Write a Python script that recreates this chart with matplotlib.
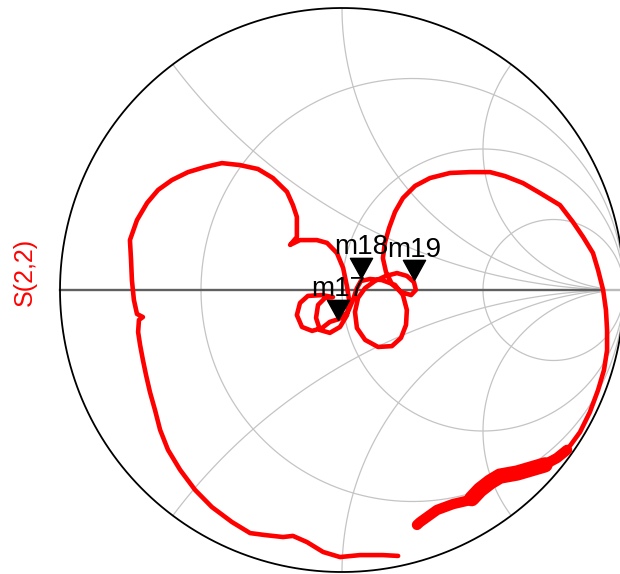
import numpy as np
import matplotlib.pyplot as plt
from matplotlib.path import Path

plt.rcParams['font.family'] = ['Liberation Sans', 'DejaVu Sans']

s22_re = [0.199, 0.145, 0.064, -0.007, -0.067, -0.124, -0.174, -0.209, -0.273, -0.326,
          -0.390, -0.461, -0.521, -0.574, -0.617, -0.645, -0.663, -0.681, -0.695, -0.706,
          -0.716, -0.723, -0.720, -0.706, -0.727, -0.738, -0.745, -0.748, -0.752, -0.727,
          -0.691, -0.652, -0.603, -0.546, -0.486, -0.426, -0.362, -0.298, -0.245, -0.195,
          -0.174, -0.160, -0.160, -0.184, -0.149, -0.089, -0.053, -0.018, 0.004, 0.018,
          0.025, 0.018, -0.007, -0.043, -0.078, -0.092, -0.085, -0.060, -0.032, -0.071,
          -0.121, -0.149, -0.160, -0.142, -0.106, -0.071, -0.043, -0.011, 0.021, 0.039,
          0.053, 0.067, 0.099, 0.142, 0.188, 0.216, 0.230, 0.227, 0.209, 0.177,
          0.128, 0.082, 0.053, 0.046, 0.057, 0.082, 0.117, 0.156, 0.195, 0.230,
          0.255, 0.262, 0.245, 0.209, 0.177, 0.156, 0.145, 0.152, 0.167, 0.188,
          0.216, 0.259, 0.312, 0.383, 0.454, 0.525, 0.578, 0.642, 0.702, 0.773,
          0.819, 0.855, 0.890, 0.908, 0.926, 0.936, 0.940, 0.940, 0.929, 0.908,
          0.879, 0.844, 0.798]
s22_im = [-0.943, -0.940, -0.940, -0.947, -0.929, -0.894, -0.872, -0.876, -0.869, -0.862,
          -0.823, -0.770, -0.709, -0.638, -0.567, -0.496, -0.426, -0.362, -0.301, -0.248,
          -0.195, -0.149, -0.106, -0.096, -0.085, -0.035, 0.035, 0.106, 0.177, 0.248,
          0.309, 0.355, 0.390, 0.418, 0.436, 0.450, 0.443, 0.429, 0.397, 0.348,
          0.301, 0.259, 0.188, 0.160, 0.177, 0.177, 0.167, 0.131, 0.078, 0.011,
          -0.035, -0.089, -0.131, -0.152, -0.142, -0.099, -0.053, -0.028, -0.025, -0.018,
          -0.021, -0.046, -0.089, -0.131, -0.145, -0.135, -0.113, -0.103, -0.078, -0.035,
          0.007, 0.032, 0.039, 0.035, 0.018, -0.018, -0.071, -0.124, -0.170, -0.199,
          -0.202, -0.177, -0.135, -0.078, -0.028, 0.007, 0.032, 0.050, 0.060, 0.050,
          0.028, 0.000, -0.018, -0.007, 0.021, 0.064, 0.113, 0.167, 0.220, 0.277,
          0.326, 0.369, 0.397, 0.415, 0.418, 0.418, 0.404, 0.379, 0.344, 0.301,
          0.241, 0.188, 0.131, 0.071, 0.000, -0.071, -0.142, -0.213, -0.284, -0.355,
          -0.433, -0.504, -0.567]

# noisy high frequency end of the same trace
tail_re = [0.798, 0.762, 0.702, 0.621, 0.560, 0.525, 0.489, 0.454, 0.394, 0.337, 0.277, 0.266]
tail_im = [-0.567, -0.596, -0.628, -0.649, -0.660, -0.681, -0.709, -0.745, -0.759, -0.780, -0.823, -0.833]
# densest part of the noisy band
band_re = [0.720, 0.621, 0.560, 0.525, 0.489, 0.460]
band_im = [-0.620, -0.649, -0.660, -0.681, -0.709, -0.740]

marker_names = ['m17', 'm18', 'm19']
marker_re = [-0.014, 0.067, 0.255]
marker_im = [-0.106, 0.043, 0.035]

r_grid = [1 / 3, 1, 3]
x_grid = [0.5, 1, 2]

fig = plt.figure(figsize=(6.2, 5.74), dpi=100)
ax = fig.add_axes([0, 0, 1, 1])
ax.set_xlim(-342 / 282, 278 / 282)
ax.set_ylim(-284 / 282, 290 / 282)
ax.axis('off')

t = np.linspace(0, 2 * np.pi, 1000)
grid_kw = dict(color='#c4c4c4', lw=0.9, zorder=1)

# constant resistance circles
for r in r_grid:
    c, rad = r / (1 + r), 1 / (1 + r)
    gx = c + rad * np.cos(t)
    gy = rad * np.sin(t)
    far = np.hypot(gx - 1, gy) > 0.075
    ax.plot(np.where(far, gx, np.nan), gy, **grid_kw)

# constant reactance arcs
for x in x_grid:
    for sgn in (1, -1):
        rad = 1 / x
        gx = 1 + rad * np.cos(t)
        gy = sgn * rad + rad * np.sin(t)
        keep = (np.hypot(gx, gy) <= 1.0) & (np.hypot(gx - 1, gy) > 0.075)
        ax.plot(np.where(keep, gx, np.nan), gy, **grid_kw)

# real axis and outer circle
ax.plot([-1, 0.925], [0, 0], color='#606060', lw=1.7, zorder=2)
ax.plot([0.925, 1], [0, 0], color='#bbbbbb', lw=1.7, zorder=2)
ax.plot(np.cos(t), np.sin(t), color='black', lw=1.3, zorder=2)

# trace
ax.plot(s22_re, s22_im, color='#ff0000', lw=3.3, solid_joinstyle='round',
        solid_capstyle='round', zorder=3)
ax.plot(tail_re, tail_im, color='#ff0000', lw=7.5, solid_joinstyle='round',
        solid_capstyle='round', zorder=3)
ax.plot(band_re, band_im, color='#ff0000', lw=11, solid_joinstyle='round',
        solid_capstyle='round', zorder=3)

# markers: downward triangle with tip on the point
tri = Path([(-1.1, 2), (1.1, 2), (0, 0), (-1.1, 2)],
           [Path.MOVETO, Path.LINETO, Path.LINETO, Path.CLOSEPOLY])
ax.plot(marker_re, marker_im, ls='none', marker=tri, markersize=29,
        color='black', zorder=5)
for name, mr, mi in zip(marker_names, marker_re, marker_im):
    ax.annotate(name, (mr, mi), xytext=(0, 17), textcoords='offset points',
                ha='center', va='baseline', fontsize=20, color='black', zorder=6)

fig.text(25 / 620, 1 - 272 / 574, 'S(2,2)', rotation=90, color='#ff0000',
         fontsize=18, ha='center', va='center')

fig.savefig('out.png', dpi=100)
